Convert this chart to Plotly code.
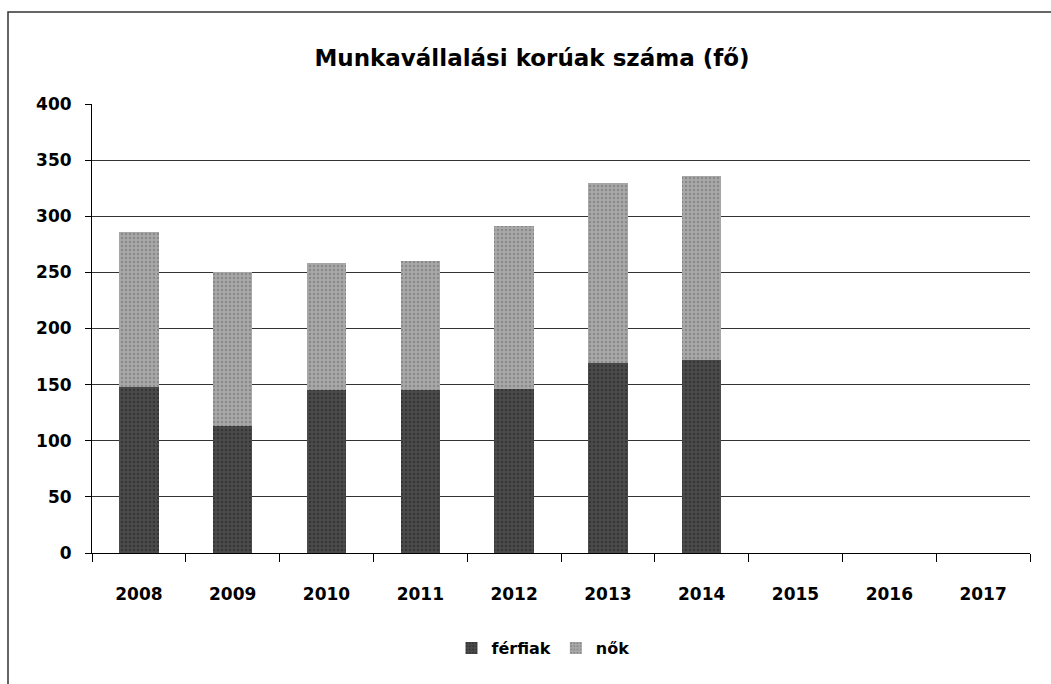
import plotly.graph_objects as go

years = ["2008", "2009", "2010", "2011", "2012", "2013", "2014", "2015", "2016", "2017"]
ferfiak = [148, 113, 145, 145, 146, 169, 172, None, None, None]
nok = [138, 137, 113, 115, 145, 161, 164, None, None, None]
y_ticks = [0, 50, 100, 150, 200, 250, 300, 350, 400]

W, H = 1051, 684
L, R, T, B = 92, 21, 104, 131
pw, ph = W - L - R, H - T - B

fig = go.Figure()
fig.add_trace(go.Bar(x=years, y=ferfiak, name="<b>férfiak</b>",
                     marker=dict(color="#4a4a4a", line=dict(width=0),
                                 pattern=dict(shape=".", fgcolor="#222222", size=4, solidity=0.3))))
fig.add_trace(go.Bar(x=years, y=nok, name="<b>nők</b>",
                     marker=dict(color="#a8a8a8", line=dict(width=0),
                                 pattern=dict(shape=".", fgcolor="#6a6a6a", size=4, solidity=0.3))))

font_main = "DejaVu Sans, Verdana, Arial"
fig.update_layout(
    width=W, height=H,
    margin=dict(l=L, r=R, t=T, b=B),
    barmode="stack", bargap=0.58,
    plot_bgcolor="white", paper_bgcolor="white",
    font=dict(family=font_main, color="black", size=16),
    title=dict(text="<b>Munkavállalási korúak száma (fő)</b>", x=532 / W, xanchor="center",
               y=1 - 58 / H, yanchor="middle", font=dict(size=23, family=font_main)),
    showlegend=True,
    legend=dict(orientation="h", x=(543 - L) / pw, xanchor="center", y=-(648 - (T + ph)) / ph,
                yanchor="middle", font=dict(size=16), traceorder="normal"),
    xaxis=dict(type="category", showgrid=False, ticks="outside", tickson="boundaries",
               ticklen=8, tickcolor="black", showline=True, linecolor="black",
               tickvals=years, ticktext=["<b>" + y + "</b>" for y in years],
               tickfont=dict(size=17), ticklabelstandoff=26),
    yaxis=dict(range=[0, 400], tickvals=y_ticks, ticktext=["<b>%d</b>" % v for v in y_ticks],
               showgrid=True, gridcolor="#333333",
               gridwidth=1, ticks="outside", ticklen=6, tickcolor="black",
               showline=True, linecolor="black", tickfont=dict(size=17),
               ticklabelstandoff=10, zeroline=False),
)

# outer chart border
fig.add_shape(type="rect", xref="paper", yref="paper",
              x0=(8 - L) / pw, x1=(1060 - L) / pw,
              y0=-(700 - (T + ph)) / ph, y1=(T + ph - 12) / ph,
              line=dict(color="#333333", width=1.5), fillcolor="rgba(0,0,0,0)", layer="below")

fig.write_html("out.html", config={"displayModeBar": False},
               post_script="document.body.style.margin='0';document.body.style.overflow='hidden';")
